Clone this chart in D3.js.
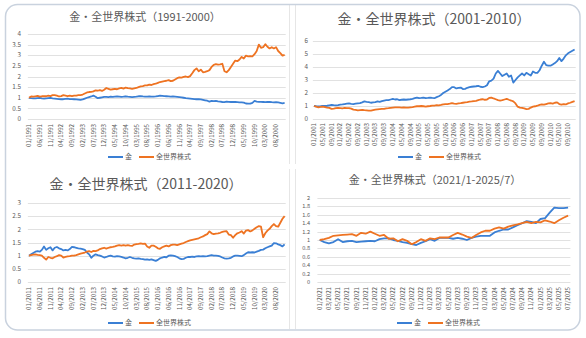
<!DOCTYPE html>
<html><head><meta charset="utf-8">
<script src="https://cdn.jsdelivr.net/npm/d3@7"></script>
<style>
html,body{margin:0;padding:0;background:#fff;}
svg{display:block;}
text{font-family:"Noto Sans CJK JP","Noto Sans",sans-serif;fill:#595959;}
</style></head>
<body><svg id="c" width="586" height="338"></svg>
<script>
// ---- data ----
const seriesNames = ["金", "全世界株式"];

const gold9100 = [
1.00,0.98,0.97,0.97,0.98,0.99,0.97,0.96,0.97,0.98,0.99,0.97,
0.96,0.95,0.94,0.93,0.93,0.95,0.96,0.94,0.94,0.93,0.92,0.91,
0.90,0.92,0.96,1.00,1.03,1.06,1.10,1.05,0.98,1.00,1.02,1.04,
1.04,1.03,1.05,1.04,1.05,1.06,1.05,1.04,1.05,1.07,1.05,1.04,
1.03,1.04,1.05,1.07,1.08,1.06,1.05,1.05,1.06,1.05,1.05,1.06,
1.08,1.10,1.09,1.08,1.07,1.06,1.05,1.06,1.05,1.04,1.03,1.02,
1.00,0.98,0.97,0.96,0.95,0.94,0.93,0.93,0.92,0.90,0.88,0.86,
0.82,0.85,0.84,0.85,0.83,0.82,0.80,0.79,0.82,0.81,0.80,0.80,
0.80,0.79,0.78,0.78,0.77,0.73,0.72,0.72,0.76,0.85,0.82,0.81,
0.81,0.80,0.79,0.80,0.81,0.79,0.78,0.79,0.78,0.76,0.74,0.76];
const stock9100 = [
1.00,1.06,1.05,1.07,1.09,1.05,1.07,1.08,1.07,1.10,1.08,1.12,
1.12,1.10,1.06,1.08,1.12,1.10,1.08,1.10,1.08,1.10,1.10,1.12,
1.12,1.15,1.20,1.25,1.27,1.28,1.30,1.35,1.33,1.36,1.32,1.38,
1.46,1.42,1.38,1.40,1.42,1.40,1.44,1.46,1.43,1.48,1.45,1.44,
1.42,1.44,1.46,1.50,1.53,1.55,1.58,1.58,1.62,1.60,1.64,1.66,
1.70,1.74,1.76,1.78,1.80,1.83,1.78,1.80,1.86,1.92,1.96,1.95,
1.98,2.00,1.97,2.02,2.15,2.30,2.38,2.25,2.32,2.20,2.22,2.25,
2.30,2.45,2.55,2.58,2.56,2.57,2.60,2.25,2.20,2.30,2.45,2.60,
2.75,2.72,2.80,2.92,2.85,2.98,2.95,2.96,2.95,3.05,3.20,3.50,
3.35,3.38,3.52,3.40,3.32,3.38,3.32,3.38,3.20,3.10,2.98,3.02];

const gold0110 = [
1.00,0.98,0.97,0.98,1.00,1.00,1.02,1.05,1.08,1.06,1.05,1.07,
1.10,1.12,1.15,1.18,1.20,1.17,1.15,1.18,1.20,1.22,1.28,1.35,
1.32,1.30,1.25,1.28,1.30,1.35,1.32,1.38,1.42,1.45,1.45,1.50,
1.55,1.50,1.52,1.45,1.48,1.50,1.48,1.50,1.52,1.55,1.60,1.65,
1.60,1.62,1.65,1.60,1.62,1.65,1.62,1.60,1.68,1.75,1.85,2.00,
2.10,2.20,2.30,2.45,2.45,2.35,2.40,2.42,2.30,2.32,2.40,2.45,
2.48,2.50,2.52,2.55,2.48,2.45,2.50,2.60,2.90,2.95,3.10,3.50,
3.70,3.50,3.30,3.40,3.50,3.25,3.35,2.80,3.00,3.20,3.35,3.50,
3.35,3.55,3.45,3.35,3.65,3.55,3.55,3.75,4.10,4.40,4.15,4.10,
4.10,4.20,4.30,4.45,4.70,4.45,4.65,4.90,5.05,5.15,5.25,5.35];
const stock0110 = [
1.00,0.95,0.90,0.94,0.95,0.92,0.88,0.85,0.78,0.80,0.83,0.85,
0.84,0.82,0.85,0.83,0.84,0.80,0.72,0.70,0.66,0.68,0.70,0.68,
0.67,0.65,0.64,0.68,0.72,0.74,0.76,0.78,0.78,0.82,0.83,0.86,
0.88,0.90,0.90,0.89,0.88,0.90,0.88,0.88,0.90,0.92,0.95,0.98,
0.98,1.00,0.98,0.96,0.98,1.00,1.03,1.03,1.06,1.05,1.08,1.12,
1.15,1.15,1.18,1.22,1.18,1.17,1.20,1.22,1.25,1.28,1.30,1.33,
1.35,1.38,1.40,1.45,1.50,1.52,1.48,1.50,1.62,1.65,1.58,1.52,
1.45,1.42,1.45,1.50,1.55,1.48,1.42,1.35,1.20,0.95,0.88,0.86,
0.82,0.76,0.78,0.88,0.95,0.98,1.02,1.08,1.12,1.10,1.15,1.20,
1.22,1.18,1.25,1.28,1.15,1.10,1.15,1.12,1.20,1.25,1.32,1.38];

const gold1120 = [
1.00,1.05,1.10,1.15,1.17,1.15,1.22,1.35,1.22,1.28,1.32,1.20,
1.30,1.33,1.28,1.25,1.20,1.22,1.20,1.25,1.33,1.32,1.30,1.28,
1.27,1.25,1.22,1.12,1.05,0.92,1.00,1.05,1.02,1.00,0.97,0.93,
0.95,0.98,1.00,0.97,0.96,0.98,0.97,0.95,0.93,0.90,0.92,0.95,
0.92,0.90,0.89,0.90,0.88,0.87,0.85,0.86,0.84,0.86,0.83,0.80,
0.84,0.90,0.93,0.95,0.94,1.00,1.01,1.00,0.98,0.95,0.90,0.87,
0.88,0.92,0.95,0.95,0.96,0.95,0.97,0.98,0.97,0.98,0.97,0.98,
1.00,1.02,1.00,1.00,0.99,0.97,0.93,0.90,0.89,0.90,0.92,0.97,
1.00,1.00,0.99,0.98,1.02,1.08,1.13,1.12,1.13,1.12,1.15,1.18,
1.22,1.23,1.28,1.32,1.35,1.38,1.48,1.47,1.43,1.40,1.35,1.43];
const stock1120 = [
1.00,1.02,1.04,1.05,1.03,1.02,1.00,0.92,0.85,0.95,0.92,0.90,
0.95,0.98,1.02,1.00,0.93,0.95,0.97,0.98,1.00,1.00,1.02,1.05,
1.08,1.10,1.12,1.15,1.17,1.14,1.18,1.17,1.20,1.25,1.28,1.30,
1.27,1.30,1.32,1.33,1.35,1.38,1.40,1.38,1.40,1.38,1.40,1.38,
1.37,1.42,1.44,1.45,1.47,1.45,1.46,1.35,1.30,1.38,1.38,1.34,
1.28,1.26,1.32,1.35,1.38,1.35,1.40,1.42,1.42,1.40,1.43,1.46,
1.48,1.52,1.55,1.58,1.60,1.62,1.64,1.66,1.70,1.73,1.78,1.82,
1.92,1.85,1.82,1.84,1.85,1.87,1.90,1.92,1.93,1.80,1.78,1.68,
1.78,1.85,1.88,1.93,1.84,1.95,1.97,1.92,1.96,2.02,2.08,2.12,
2.10,1.70,1.85,1.95,2.02,2.12,2.20,2.12,2.10,2.25,2.40,2.50];

const gold2125 = [
1.00,0.95,0.92,0.95,1.02,0.95,0.97,0.98,0.95,0.96,0.97,0.98,
0.97,1.02,1.04,1.04,1.00,0.98,0.95,0.93,0.90,0.88,0.93,0.97,
1.02,0.98,1.05,1.05,1.05,1.03,1.05,1.03,1.00,1.05,1.08,1.10,
1.10,1.10,1.18,1.22,1.25,1.25,1.30,1.35,1.40,1.45,1.43,1.40,
1.50,1.52,1.65,1.77,1.76,1.76,1.77];
const stock2125 = [
1.00,1.02,1.05,1.10,1.11,1.12,1.13,1.14,1.10,1.17,1.15,1.20,
1.15,1.10,1.12,1.03,1.04,0.97,1.02,0.98,0.90,0.95,1.02,0.98,
1.04,1.02,1.06,1.06,1.06,1.12,1.17,1.13,1.08,1.05,1.12,1.18,
1.22,1.22,1.27,1.30,1.27,1.32,1.35,1.37,1.40,1.43,1.40,1.43,
1.42,1.47,1.44,1.40,1.47,1.53,1.58];

const titles = ["金・全世界株式（1991-2000）","金・全世界株式（2001-2010）","金・全世界株式（2011-2020）","金・全世界株式（2021/1-2025/7）"];
const yTicks1 = [0,0.5,1,1.5,2,2.5,3,3.5,4];
const yTicks2 = [0,1,2,3,4,5,6];
const yTicks3 = [0,0.5,1,1.5,2,2.5,3];
const yTicks4 = [0,0.2,0.4,0.6,0.8,1,1.2,1.4,1.6,1.8,2];
const startYears = [1991, 2001, 2011, 2021];
const labelEvery = [5, 4, 5, 2];

function months(startYear, n){
  const out=[];
  for(let i=0;i<n;i++){
    const y=startYear+Math.floor(i/12), m=i%12+1;
    out.push((m<10?"0":"")+m+"/"+y);
  }
  return out;
}

// ---- layout ----
const layout = [
 {gold:gold9100, stock:stock9100, ticks:yTicks1, left:27.9, right:285.7, top:34, bottom:119, ylx:21, yfs:6.3, xly:124, tx:145, ty:17, ts:11, ly:157, lx:108},
 {gold:gold0110, stock:stock0110, ticks:yTicks2, left:312.9, right:575.7, top:41, bottom:119, ylx:308, yfs:6.3, xly:123, tx:434, ty:19, ts:14, ly:157, lx:398},
 {gold:gold1120, stock:stock1120, ticks:yTicks3, left:27.9, right:285.7, top:203, bottom:282, ylx:21, yfs:6.3, xly:287, tx:146, ty:184, ts:14, ly:323, lx:108},
 {gold:gold2125, stock:stock2125, ticks:yTicks4, left:317.4, right:570.4, top:198, bottom:282, ylx:310, yfs:5.6, xly:287, tx:435, ty:180, ts:11, ly:323, lx:397}
];
const BLUE="#3a7fd4", ORANGE="#ee7322";

const svg = d3.select("#c");
svg.append("rect").attr("width",586).attr("height",338).attr("fill","#fff");

// frames
const fr = svg.append("g").attr("stroke","#e6e6e6").attr("fill","none");
[[289.5,5,164],[289.5,169,329],[295.5,5,164],[295.5,169,329]].forEach(d=>{
  fr.append("line").attr("x1",d[0]).attr("x2",d[0]).attr("y1",d[1]).attr("y2",d[2]);
});
svg.append("rect").attr("x",5.5).attr("y",4.5).attr("width",574.5).attr("height",325.5)
  .attr("rx",12).attr("fill","none").attr("stroke","#c9d2de").attr("stroke-width",1.5);

layout.forEach((p,k)=>{
  const n = p.gold.length;
  const cats = months(startYears[k], n);
  const x = d3.scaleBand().domain(cats).range([p.left,p.right]).padding(0);
  const cx = c => x(c)+x.bandwidth()/2;
  const yMax = p.ticks[p.ticks.length-1];
  const y = d3.scaleLinear().domain([0,yMax]).range([p.bottom,p.top]);
  const g = svg.append("g");

  // gridlines
  g.selectAll("line.grid").data(p.ticks).join("line")
    .attr("x1",p.left).attr("x2",p.right)
    .attr("y1",d=>Math.round(y(d))+0.5).attr("y2",d=>Math.round(y(d))+0.5)
    .attr("stroke","#d9d9d9").attr("stroke-width",0.8);
  // y labels
  g.selectAll("text.yl").data(p.ticks).join("text")
    .attr("x",p.ylx).attr("y",d=>y(d)).attr("dy","0.35em")
    .attr("text-anchor","end").attr("font-size",p.yfs)
    .text(d=>String(+d.toFixed(2)));
  // x labels
  const tickCats = cats.filter((c,i)=>i%labelEvery[k]===0);
  g.selectAll("text.xl").data(tickCats).join("text")
    .attr("transform",d=>`translate(${cx(d)},${p.xly}) rotate(-90)`)
    .attr("text-anchor","end").attr("dy","0.35em").attr("font-size",6.2)
    .text(d=>d);
  // lines
  const line = d3.line().x((d,i)=>cx(cats[i])).y(d=>y(d));
  g.append("path").datum(p.gold).attr("d",line).attr("fill","none")
    .attr("stroke",BLUE).attr("stroke-width",1.8).attr("stroke-linejoin","round");
  g.append("path").datum(p.stock).attr("d",line).attr("fill","none")
    .attr("stroke",ORANGE).attr("stroke-width",1.8).attr("stroke-linejoin","round");
  // title
  g.append("text").attr("x",p.tx).attr("y",p.ty).attr("dy","0.35em")
    .attr("text-anchor","middle").attr("font-size",p.ts).text(titles[k]);
  // legend
  const lg = g.append("g").attr("transform",`translate(${p.lx},${p.ly})`);
  lg.append("line").attr("x1",0).attr("x2",15).attr("stroke",BLUE).attr("stroke-width",2);
  lg.append("text").attr("x",17).attr("dy","0.35em").attr("font-size",7).text(seriesNames[0]);
  lg.append("line").attr("x1",31).attr("x2",46).attr("stroke",ORANGE).attr("stroke-width",2);
  lg.append("text").attr("x",48).attr("dy","0.35em").attr("font-size",7).text(seriesNames[1]);
});
</script></body></html>
